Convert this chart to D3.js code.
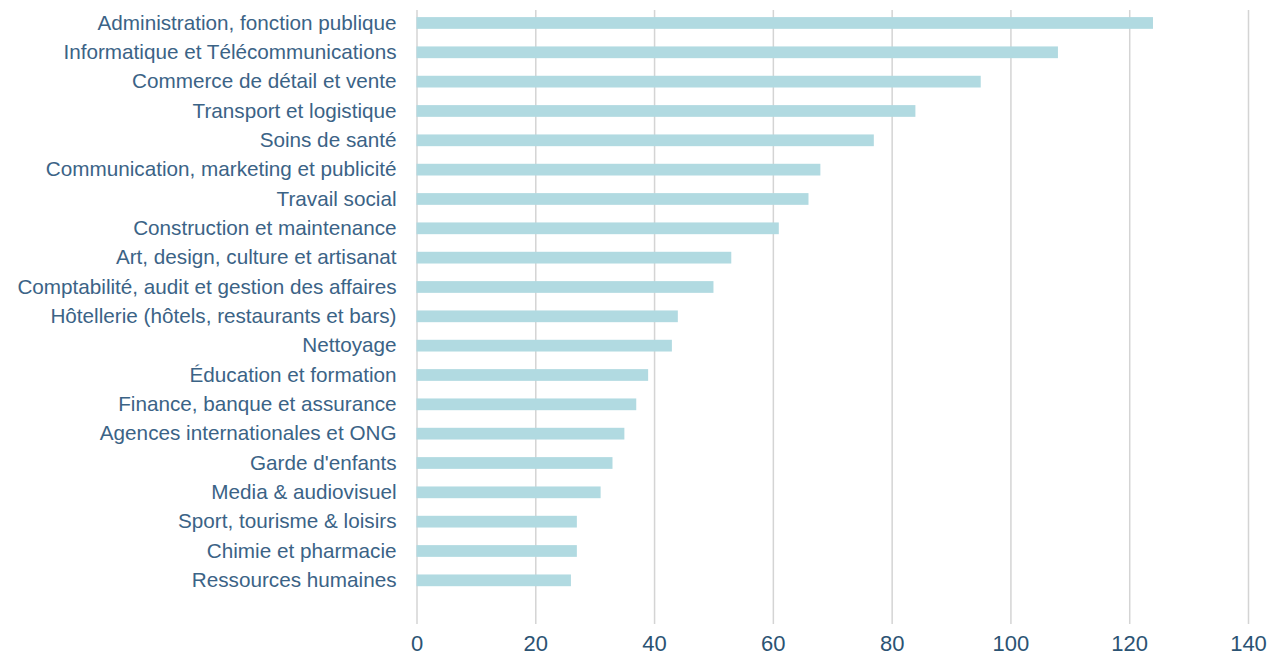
<!DOCTYPE html>
<html>
<head>
<meta charset="utf-8">
<script src="https://cdn.jsdelivr.net/npm/d3@7"></script>
<style>
  body { margin: 0; background: #fff; }
  svg { display: block; font-family: "Liberation Sans", Arial, sans-serif; }
</style>
</head>
<body>
<div id="chart"></div>
<script>
// Categories, top to bottom
const categories = [
  "Administration, fonction publique",
  "Informatique et Télécommunications",
  "Commerce de détail et vente",
  "Transport et logistique",
  "Soins de santé",
  "Communication, marketing et publicité",
  "Travail social",
  "Construction et maintenance",
  "Art, design, culture et artisanat",
  "Comptabilité, audit et gestion des affaires",
  "Hôtellerie (hôtels, restaurants et bars)",
  "Nettoyage",
  "Éducation et formation",
  "Finance, banque et assurance",
  "Agences internationales et ONG",
  "Garde d'enfants",
  "Media & audiovisuel",
  "Sport, tourisme & loisirs",
  "Chimie et pharmacie",
  "Ressources humaines"
]

const values = [124, 108, 95, 84, 77, 68, 66, 61, 53, 50, 44, 43, 39, 37, 35, 33, 31, 27, 27, 26]

const xTicks = [0, 20, 40, 60, 80, 100, 120, 140]

const width = 1271
const height = 656

const plot = { left: 416.5, right: 1248, top: 10, bottom: 624 }

const svg = d3.select("#chart").append("svg")
  .attr("width", width)
  .attr("height", height)

const x = d3.scaleLinear()
  .domain([0, 140])
  .range([plot.left, plot.right])

const y = d3.scaleBand()
  .domain(categories)
  .range([8.3, 595])
  .paddingInner(0.6)
  .paddingOuter(0.3)

// Vertical grid + bottom tick labels
const xAxis = svg.append("g")
  .attr("transform", `translate(0,${plot.bottom})`)
  .call(d3.axisBottom(x)
    .tickValues(xTicks)
    .tickSize(-(plot.bottom - plot.top))
    .tickPadding(11))

xAxis.select(".domain").remove()
xAxis.selectAll(".tick line")
  .attr("stroke", "#d4d4d4")
  .attr("stroke-width", 1.5)
xAxis.selectAll(".tick text")
  .attr("fill", "#2b5373")
  .attr("font-size", 22)
  .attr("font-family", "Liberation Sans, Arial, sans-serif")

// Bars
svg.append("g")
  .selectAll("rect")
  .data(values)
  .enter().append("rect")
  .attr("x", x(0))
  .attr("y", (d, i) => y(categories[i]))
  .attr("width", d => x(d) - x(0))
  .attr("height", y.bandwidth())
  .attr("fill", "#b1dae1")

// Category labels
const yAxis = svg.append("g")
  .attr("transform", `translate(${plot.left},0)`)
  .call(d3.axisLeft(y).tickSize(0).tickPadding(20))

yAxis.select(".domain").remove()
yAxis.selectAll(".tick text")
  .attr("fill", "#3b6386")
  .attr("font-size", 20.7)
  .attr("font-family", "Liberation Sans, Arial, sans-serif")
</script>
</body>
</html>
